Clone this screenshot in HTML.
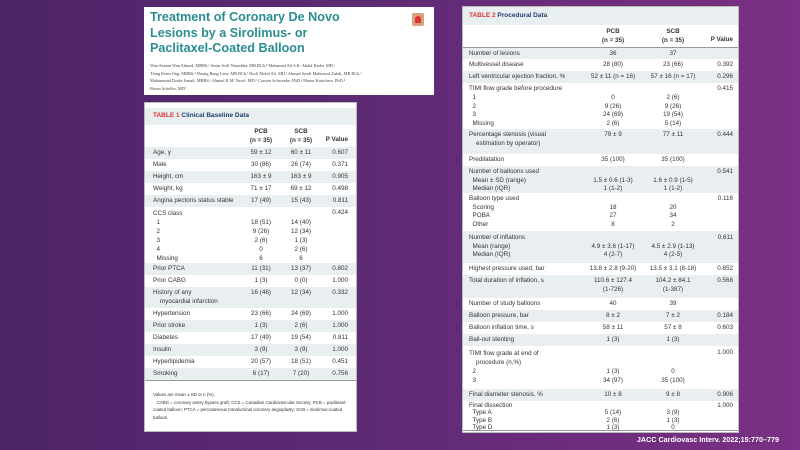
<!DOCTYPE html>
<html><head><meta charset="utf-8"><style>
body{margin:0;width:800px;height:450px;overflow:hidden;position:relative;background:linear-gradient(90deg,#4d2468 0%,#5e2a74 45%,#7a3084 100%);font-family:"Liberation Sans",sans-serif;color:#333}
.box{position:absolute;background:#fff}
.t{position:absolute;font-size:6.3px;line-height:8.6px;white-space:nowrap}
.r{position:absolute;}
.sh{background:#e9eef1}
.lb{position:absolute;font-size:6.3px;line-height:8.6px;white-space:nowrap;top:2px}
.c{position:absolute;font-size:6.3px;line-height:8.6px;white-space:nowrap;top:2px;text-align:center;width:60px}
.p{position:absolute;font-size:6.3px;line-height:8.6px;top:2px;text-align:right;width:40px}
</style></head><body>
<div class="box" style="left:144px;top:7px;width:290px;height:88px">
<div style="position:absolute;left:6px;top:3px;font-size:12.6px;line-height:15.5px;color:#2a8d92;font-weight:bold">Treatment of Coronary De Novo<br>Lesions by a Sirolimus- or<br>Paclitaxel-Coated Balloon</div>
<div style="position:absolute;left:268px;top:6px;width:12px;height:13px;border-radius:2px;background:#d8a080"><div style="position:absolute;left:3px;top:3px;width:6px;height:7px;background:#d33;border-radius:3px 3px 0 0"></div></div>
<div style="position:absolute;left:6px;top:55px;font-size:4.3px;line-height:7.7px;font-family:'Liberation Serif',serif;color:#444">Wan Azman Wan Ahmad, MBBS,ᵃ Amin Ariff Nuruddin, MB BCh,ᵇ Muhamad Ali S.K. Abdul Kader, MD,ᶜ<br>Tiong Kiam Ong, MBBS,ᵈ Houng Bang Liew, MB BCh,ᵉ Rosli Mohd Ali, MD,ᶠ Ahmad Syadi Mahmood Zuhdi, MB BCh,ᵃ<br>Muhammad Dzafir Ismail, MBBS,ᵃ Ahmad K.M. Yusof, MD,ᵇ Carsten Schwenke, PhD,ᵍ Maren Kutschera, PhD,ʰ<br>Bruno Scheller, MDⁱ</div>
</div>

<div class="box" style="left:144px;top:102px;width:211px;height:328px;border:1px solid #bbb">
<div class="r sh" style="left:0;right:0;top:5px;height:17px"><span class="t" style="left:8px;top:4px;font-weight:bold;font-size:6.5px"><span style="color:#d33">TABLE 1</span> <span style="color:#1e3f6e">Clinical Baseline Data</span></span></div>
<div class="r" style="left:0;right:0;top:22px;height:22px;border-bottom:1px solid #999">
<div class="c" style="left:86px;top:3px;font-weight:bold">PCB<br>(n = 35)</div><div class="c" style="left:126px;top:3px;font-weight:bold">SCB<br>(n = 35)</div><div class="p" style="left:163px;top:11px;font-weight:bold">P Value</div></div>
<div style="position:absolute;left:0;right:0;top:44px">
<div class="r sh" style="left:0;right:0;top:0;height:12px"><div class="lb" style="left:8px">Age, y</div><div class="c" style="left:86px">59 ± 12</div><div class="c" style="left:126px">60 ± 11</div><div class="p" style="left:163px">0.607</div></div>
<div class="r" style="left:0;right:0;top:12px;height:12px"><div class="lb" style="left:8px">Male</div><div class="c" style="left:86px">30 (86)</div><div class="c" style="left:126px">26 (74)</div><div class="p" style="left:163px">0.371</div></div>
<div class="r sh" style="left:0;right:0;top:24px;height:12px"><div class="lb" style="left:8px">Height, cm</div><div class="c" style="left:86px">163 ± 9</div><div class="c" style="left:126px">163 ± 9</div><div class="p" style="left:163px">0.905</div></div>
<div class="r" style="left:0;right:0;top:36px;height:12px"><div class="lb" style="left:8px">Weight, kg</div><div class="c" style="left:86px">71 ± 17</div><div class="c" style="left:126px">69 ± 12</div><div class="p" style="left:163px">0.498</div></div>
<div class="r sh" style="left:0;right:0;top:48px;height:12px"><div class="lb" style="left:8px">Angina pectoris status stable</div><div class="c" style="left:86px">17 (49)</div><div class="c" style="left:126px">15 (43)</div><div class="p" style="left:163px">0.811</div></div>
<div class="r" style="left:0;right:0;top:60px;height:56px"><div class="lb" style="left:8px;line-height:9px">CCS class<br>&nbsp;&nbsp;1<br>&nbsp;&nbsp;2<br>&nbsp;&nbsp;3<br>&nbsp;&nbsp;4<br>&nbsp;&nbsp;Missing</div><div class="c" style="left:86px;line-height:9px"><br>18 (51)<br>9 (26)<br>2 (6)<br>0<br>6</div><div class="c" style="left:126px;line-height:9px"><br>14 (40)<br>12 (34)<br>1 (3)<br>2 (6)<br>6</div><div class="p" style="left:163px">0.424</div></div>
<div class="r sh" style="left:0;right:0;top:116px;height:12px"><div class="lb" style="left:8px">Prior PTCA</div><div class="c" style="left:86px">11 (31)</div><div class="c" style="left:126px">13 (37)</div><div class="p" style="left:163px">0.802</div></div>
<div class="r" style="left:0;right:0;top:128px;height:12px"><div class="lb" style="left:8px">Prior CABG</div><div class="c" style="left:86px">1 (3)</div><div class="c" style="left:126px">0 (0)</div><div class="p" style="left:163px">1.000</div></div>
<div class="r sh" style="left:0;right:0;top:140px;height:21px"><div class="lb" style="left:8px">History of any<br>&nbsp;&nbsp;&nbsp;&nbsp;myocardial infarction</div><div class="c" style="left:86px">16 (46)</div><div class="c" style="left:126px">12 (34)</div><div class="p" style="left:163px">0.332</div></div>
<div class="r" style="left:0;right:0;top:161px;height:12px"><div class="lb" style="left:8px">Hypertension</div><div class="c" style="left:86px">23 (66)</div><div class="c" style="left:126px">24 (69)</div><div class="p" style="left:163px">1.000</div></div>
<div class="r sh" style="left:0;right:0;top:173px;height:12px"><div class="lb" style="left:8px">Prior stroke</div><div class="c" style="left:86px">1 (3)</div><div class="c" style="left:126px">2 (6)</div><div class="p" style="left:163px">1.000</div></div>
<div class="r" style="left:0;right:0;top:185px;height:12px"><div class="lb" style="left:8px">Diabetes</div><div class="c" style="left:86px">17 (49)</div><div class="c" style="left:126px">19 (54)</div><div class="p" style="left:163px">0.811</div></div>
<div class="r sh" style="left:0;right:0;top:197px;height:12px"><div class="lb" style="left:8px">Insulin</div><div class="c" style="left:86px">3 (9)</div><div class="c" style="left:126px">3 (9)</div><div class="p" style="left:163px">1.000</div></div>
<div class="r" style="left:0;right:0;top:209px;height:12px"><div class="lb" style="left:8px">Hyperlipidemia</div><div class="c" style="left:86px">20 (57)</div><div class="c" style="left:126px">18 (51)</div><div class="p" style="left:163px">0.451</div></div>
<div class="r sh" style="left:0;right:0;top:221px;height:12px;border-bottom:1px solid #999"><div class="lb" style="left:8px">Smoking</div><div class="c" style="left:86px">6 (17)</div><div class="c" style="left:126px">7 (20)</div><div class="p" style="left:163px">0.756</div></div>
</div>
<div class="t" style="left:8px;top:288px;font-size:4.4px;line-height:7.5px;white-space:normal;width:196px">Values are mean ± SD or n (%).<br>&nbsp;&nbsp;&nbsp;CABG = coronary artery bypass graft; CCS = Canadian Cardiovascular Society; PCB = paclitaxel-coated balloon; PTCA = percutaneous transluminal coronary angioplasty; SCB = sirolimus-coated balloon.</div>
</div>

<div class="box" style="left:462px;top:6px;width:275px;height:425px;border:1px solid #bbb;overflow:hidden">
<div class="r sh" style="left:0;right:0;top:0;height:18px"><span class="t" style="left:6px;top:5px;font-weight:bold;font-size:6.5px"><span style="color:#d33">TABLE 2</span> <span style="color:#1e3f6e">Procedural Data</span></span></div>
<div class="r" style="left:0;right:0;top:18px;height:22px;border-bottom:1px solid #999">
<div class="c" style="left:120px;top:3px;font-weight:bold">PCB<br>(n = 35)</div><div class="c" style="left:180px;top:3px;font-weight:bold">SCB<br>(n = 35)</div><div class="p" style="left:230px;top:11px;font-weight:bold">P Value</div></div>
<div style="position:absolute;left:0;right:0;top:41px">
<div class="r sh" style="left:0;right:0;top:0;height:11px"><div class="lb" style="left:6px">Number of lesions</div><div class="c" style="left:120px">36</div><div class="c" style="left:180px">37</div></div>
<div class="r" style="left:0;right:0;top:11px;height:12px"><div class="lb" style="left:6px">Multivessel disease</div><div class="c" style="left:120px">28 (80)</div><div class="c" style="left:180px">23 (66)</div><div class="p" style="left:230px">0.392</div></div>
<div class="r sh" style="left:0;right:0;top:23px;height:12px"><div class="lb" style="left:6px">Left ventricular ejection fraction, %</div><div class="c" style="left:120px">52 ± 11 (n = 16)</div><div class="c" style="left:180px">57 ± 16 (n = 17)</div><div class="p" style="left:230px">0.296</div></div>
<div class="r" style="left:0;right:0;top:35px;height:46px"><div class="lb" style="left:6px;line-height:8.8px">TIMI flow grade before procedure<br>&nbsp;&nbsp;1<br>&nbsp;&nbsp;2<br>&nbsp;&nbsp;3<br>&nbsp;&nbsp;Missing</div><div class="c" style="left:120px;line-height:8.8px"><br>0<br>9 (26)<br>24 (69)<br>2 (6)</div><div class="c" style="left:180px;line-height:8.8px"><br>2 (6)<br>9 (26)<br>19 (54)<br>5 (14)</div><div class="p" style="left:230px">0.415</div></div>
<div class="r sh" style="left:0;right:0;top:81px;height:25px"><div class="lb" style="left:6px">Percentage stenosis (visual<br>&nbsp;&nbsp;&nbsp;&nbsp;estimation by operator)</div><div class="c" style="left:120px">79 ± 9</div><div class="c" style="left:180px">77 ± 11</div><div class="p" style="left:230px">0.444</div></div>
<div class="r" style="left:0;right:0;top:106px;height:12px"><div class="lb" style="left:6px">Predilatation</div><div class="c" style="left:120px">35 (100)</div><div class="c" style="left:180px">35 (100)</div></div>
<div class="r sh" style="left:0;right:0;top:118px;height:27px"><div class="lb" style="left:6px">Number of balloons used<br>&nbsp;&nbsp;Mean ± SD (range)<br>&nbsp;&nbsp;Median (IQR)</div><div class="c" style="left:120px"><br>1.5 ± 0.6 (1-3)<br>1 (1-2)</div><div class="c" style="left:180px"><br>1.6 ± 0.9 (1-5)<br>1 (1-2)</div><div class="p" style="left:230px">0.541</div></div>
<div class="r" style="left:0;right:0;top:145px;height:38px"><div class="lb" style="left:6px">Balloon type used<br>&nbsp;&nbsp;Scoring<br>&nbsp;&nbsp;POBA<br>&nbsp;&nbsp;Other</div><div class="c" style="left:120px"><br>18<br>27<br>8</div><div class="c" style="left:180px"><br>20<br>34<br>2</div><div class="p" style="left:230px">0.116</div></div>
<div class="r sh" style="left:0;right:0;top:183px;height:32px"><div class="lb" style="left:6px;top:3px">Number of inflations<br>&nbsp;&nbsp;Mean (range)<br>&nbsp;&nbsp;Median (IQR)</div><div class="c" style="left:120px;top:3px"><br>4.9 ± 3.6 (1-17)<br>4 (2-7)</div><div class="c" style="left:180px;top:3px"><br>4.5 ± 2.9 (1-13)<br>4 (2-5)</div><div class="p" style="left:230px;top:3px">0.611</div></div>
<div class="r" style="left:0;right:0;top:215px;height:12px"><div class="lb" style="left:6px">Highest pressure used, bar</div><div class="c" style="left:120px">13.8 ± 2.8 (9-20)</div><div class="c" style="left:180px">13.5 ± 3.1 (8-18)</div><div class="p" style="left:230px">0.852</div></div>
<div class="r sh" style="left:0;right:0;top:227px;height:23px"><div class="lb" style="left:6px">Total duration of inflation, s</div><div class="c" style="left:120px">110.6 ± 127.4<br>(1-726)</div><div class="c" style="left:180px">104.2 ± 84.1<br>(1-387)</div><div class="p" style="left:230px">0.568</div></div>
<div class="r" style="left:0;right:0;top:250px;height:12px"><div class="lb" style="left:6px">Number of study balloons</div><div class="c" style="left:120px">40</div><div class="c" style="left:180px">39</div></div>
<div class="r sh" style="left:0;right:0;top:262px;height:12px"><div class="lb" style="left:6px">Balloon pressure, bar</div><div class="c" style="left:120px">8 ± 2</div><div class="c" style="left:180px">7 ± 2</div><div class="p" style="left:230px">0.184</div></div>
<div class="r" style="left:0;right:0;top:274px;height:12px"><div class="lb" style="left:6px">Balloon inflation time, s</div><div class="c" style="left:120px">58 ± 11</div><div class="c" style="left:180px">57 ± 8</div><div class="p" style="left:230px">0.603</div></div>
<div class="r sh" style="left:0;right:0;top:286px;height:12px"><div class="lb" style="left:6px">Bail-out stenting</div><div class="c" style="left:120px">1 (3)</div><div class="c" style="left:180px">1 (3)</div></div>
<div class="r" style="left:0;right:0;top:298px;height:43px"><div class="lb" style="left:6px;top:3px;line-height:9px">TIMI flow grade at end of<br>&nbsp;&nbsp;&nbsp;&nbsp;procedure (n,%)<br>&nbsp;&nbsp;2<br>&nbsp;&nbsp;3</div><div class="c" style="left:120px;top:3px;line-height:9px"><br><br>1 (3)<br>34 (97)</div><div class="c" style="left:180px;top:3px;line-height:9px"><br><br>0<br>35 (100)</div><div class="p" style="left:230px;top:3px">1.000</div></div>
<div class="r sh" style="left:0;right:0;top:341px;height:12px"><div class="lb" style="left:6px">Final diameter stenosis, %</div><div class="c" style="left:120px">10 ± 8</div><div class="c" style="left:180px">9 ± 8</div><div class="p" style="left:230px">0.906</div></div>
<div class="r" style="left:0;right:0;top:353px;height:29px;border-bottom:1px solid #999"><div class="lb" style="left:6px;top:1px;line-height:7.4px">Final dissection<br>&nbsp;&nbsp;Type A<br>&nbsp;&nbsp;Type B<br>&nbsp;&nbsp;Type D</div><div class="c" style="left:120px;top:1px;line-height:7.4px"><br>5 (14)<br>2 (6)<br>1 (3)</div><div class="c" style="left:180px;top:1px;line-height:7.4px"><br>3 (9)<br>1 (3)<br>0</div><div class="p" style="left:230px;top:1px">1.000</div></div>
</div>
</div>
<div class="t" style="right:21px;top:436px;color:#fff;font-weight:bold;font-size:7.2px">JACC Cardiovasc Interv. 2022;15:770–779</div>
</body></html>
